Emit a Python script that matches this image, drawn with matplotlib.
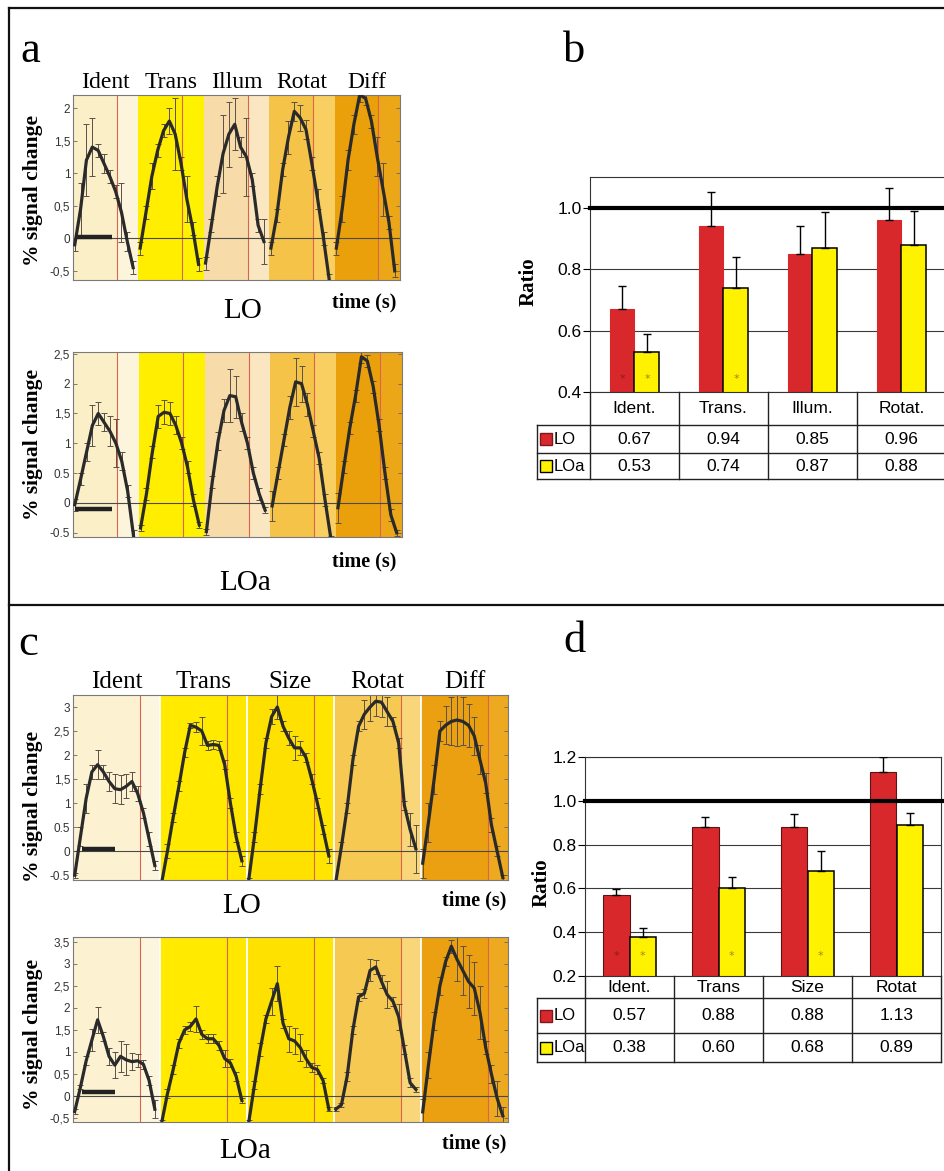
import numpy as np
import matplotlib
matplotlib.use("Agg")
import matplotlib.pyplot as plt
from matplotlib.lines import Line2D
import matplotlib.transforms as mtransforms

W, H = 945, 1171
SERIF = ['Liberation Serif', 'DejaVu Serif']
SANS = ['Liberation Sans', 'DejaVu Sans']
RED = '#d8282c'
YELLOW = '#fff200'

# ---------------- panel a: time courses, 11 samples per condition ----------------
conds_a = ['Ident', 'Trans', 'Illum', 'Rotat', 'Diff']
lo_a = [
    [-0.10, 0.45, 1.20, 1.40, 1.35, 1.15, 0.95, 0.72, 0.40, -0.05, -0.45],
    [-0.15, 0.40, 0.95, 1.35, 1.65, 1.80, 1.60, 1.15, 0.60, 0.15, -0.40],
    [-0.38, 0.20, 0.80, 1.30, 1.60, 1.75, 1.40, 1.25, 0.90, 0.20, -0.05],
    [-0.15, 0.35, 1.05, 1.55, 1.95, 1.85, 1.67, 1.15, 0.60, 0.00, -0.65],
    [-0.15, 0.45, 1.20, 1.75, 2.20, 2.15, 1.80, 1.25, 0.75, 0.25, -0.50],
]
lo_a_err = [
    [0.10, 0.40, 0.55, 0.45, 0.10, 0.15, 0.10, 0.10, 0.45, 0.15, 0.10],
    [0.10, 0.10, 0.20, 0.10, 0.10, 0.20, 0.55, 0.10, 0.35, 0.10, 0.10],
    [0.10, 0.10, 0.15, 0.60, 0.50, 0.40, 0.15, 0.60, 0.10, 0.10, 0.35],
    [0.10, 0.10, 0.10, 0.25, 0.15, 0.20, 0.15, 0.10, 0.15, 0.10, 0.10],
    [0.10, 0.20, 0.15, 0.15, 0.10, 0.10, 0.10, 0.30, 0.40, 0.10, 0.10],
]
loa_a = [
    [-0.03, 0.40, 0.85, 1.30, 1.50, 1.35, 1.20, 1.00, 0.70, 0.20, -0.55],
    [-0.42, 0.15, 0.85, 1.45, 1.52, 1.50, 1.30, 1.00, 0.60, 0.05, -0.37],
    [-0.48, 0.35, 1.04, 1.55, 1.80, 1.78, 1.35, 1.00, 0.50, 0.15, -0.12],
    [-0.05, 0.50, 1.05, 1.60, 2.03, 2.00, 1.65, 1.20, 0.75, 0.05, -0.60],
    [-0.08, 0.60, 1.25, 1.80, 2.45, 2.38, 1.95, 1.30, 0.50, -0.20, -0.50],
]
loa_a_err = [
    [0.10, 0.10, 0.15, 0.35, 0.20, 0.15, 0.25, 0.40, 0.15, 0.10, 0.10],
    [0.05, 0.10, 0.10, 0.20, 0.20, 0.20, 0.15, 0.10, 0.10, 0.10, 0.05],
    [0.05, 0.10, 0.15, 0.20, 0.45, 0.35, 0.15, 0.10, 0.10, 0.10, 0.05],
    [0.25, 0.10, 0.10, 0.20, 0.40, 0.30, 0.20, 0.10, 0.10, 0.10, 0.05],
    [0.25, 0.10, 0.10, 0.10, 0.10, 0.10, 0.10, 0.10, 0.10, 0.10, 0.05],
]
colors_a = [('#fbefc8', '#fdf5db'), ('#ffee00', '#fff200'), ('#f7dcaa', '#fae6c0'),
            ('#f4c347', '#f8cf60'), ('#e9a00b', '#eca718')]
stim_a = (0.0, 6.4)

# ---------------- panel c: time courses, 15 samples per condition ----------------
conds_c = ['Ident', 'Trans', 'Size', 'Rotat', 'Diff']
lo_c = [
    [-0.50, 0.30, 1.10, 1.65, 1.80, 1.65, 1.45, 1.30, 1.28, 1.35, 1.45, 1.20, 0.80, 0.25, -0.30],
    [-0.65, 0.00, 0.70, 1.35, 2.05, 2.62, 2.58, 2.50, 2.20, 2.22, 2.20, 1.80, 1.00, 0.30, -0.20],
    [-0.60, 0.30, 1.30, 2.25, 2.80, 3.00, 2.60, 2.35, 2.15, 2.15, 1.95, 1.50, 1.00, 0.45, -0.10],
    [-0.65, 0.10, 0.90, 1.90, 2.60, 2.85, 3.00, 3.12, 3.10, 2.90, 2.70, 2.25, 0.95, 0.45, 0.05],
    [-0.25, 0.60, 1.50, 2.50, 2.62, 2.70, 2.73, 2.70, 2.62, 2.40, 1.90, 1.42, 0.55, 0.00, -0.55],
]
lo_c_err = [
    [0.05, 0.20, 0.30, 0.15, 0.30, 0.15, 0.20, 0.30, 0.30, 0.25, 0.20, 0.15, 0.10, 0.15, 0.10],
    [0.05, 0.15, 0.10, 0.10, 0.10, 0.05, 0.10, 0.30, 0.10, 0.10, 0.10, 0.10, 0.10, 0.10, 0.10],
    [0.05, 0.10, 0.10, 0.10, 0.15, 0.25, 0.10, 0.15, 0.25, 0.15, 0.10, 0.10, 0.10, 0.10, 0.15],
    [0.05, 0.10, 0.10, 0.10, 0.10, 0.30, 0.30, 0.30, 0.30, 0.30, 0.10, 0.10, 0.10, 0.35, 0.50],
    [0.30, 0.40, 0.30, 0.20, 0.40, 0.50, 0.55, 0.50, 0.45, 0.40, 0.30, 0.20, 0.15, 0.10, 0.05],
]
loa_c = [
    [-0.35, 0.20, 0.80, 1.27, 1.73, 1.35, 0.90, 0.70, 0.90, 0.82, 0.78, 0.80, 0.72, 0.35, -0.30],
    [-0.60, 0.05, 0.60, 1.20, 1.50, 1.58, 1.75, 1.40, 1.30, 1.30, 1.15, 0.85, 0.75, 0.45, -0.10],
    [-0.60, 0.25, 1.05, 1.75, 2.15, 2.55, 1.65, 1.30, 1.25, 1.10, 0.85, 0.65, 0.60, 0.35, -0.30],
    [-0.30, -0.20, 0.45, 1.50, 2.25, 2.33, 2.85, 2.93, 2.60, 2.30, 2.15, 1.80, 1.05, 0.30, 0.15],
    [-0.36, 0.70, 1.70, 2.50, 3.05, 3.40, 3.10, 2.85, 2.60, 2.45, 1.90, 1.10, 0.50, -0.05, -0.45],
]
loa_c_err = [
    [0.05, 0.05, 0.10, 0.25, 0.30, 0.10, 0.20, 0.30, 0.35, 0.35, 0.20, 0.15, 0.10, 0.10, 0.20],
    [0.05, 0.10, 0.10, 0.10, 0.10, 0.10, 0.30, 0.10, 0.10, 0.10, 0.10, 0.20, 0.10, 0.10, 0.05],
    [0.05, 0.10, 0.15, 0.10, 0.30, 0.40, 0.10, 0.30, 0.30, 0.30, 0.20, 0.10, 0.10, 0.05, 0.05],
    [0.05, 0.05, 0.10, 0.10, 0.10, 0.10, 0.25, 0.15, 0.15, 0.30, 0.10, 0.30, 0.10, 0.10, 0.05],
    [0.30, 0.30, 0.20, 0.20, 0.10, 0.15, 0.50, 0.55, 0.60, 0.60, 0.60, 0.15, 0.20, 0.40, 0.20],
]
colors_c = [('#fcf2d2', '#fdf6df'), ('#ffea00', '#ffe700'), ('#ffe100', '#ffe500'),
            ('#f6c953', '#f9d679'), ('#eaa010', '#eda920')]
stim_c = (1.3, 7.0)

# ---------------- panels b / d: ratio bars ----------------
cats_b = ['Ident.', 'Trans.', 'Illum.', 'Rotat.']
ratio_lo_b = [0.67, 0.94, 0.85, 0.96]
ratio_loa_b = [0.53, 0.74, 0.87, 0.88]
err_lo_b = [0.075, 0.11, 0.09, 0.105]
err_loa_b = [0.06, 0.10, 0.115, 0.11]
star_lo_b = [True, False, False, False]
star_loa_b = [True, True, False, False]

cats_d = ['Ident.', 'Trans', 'Size', 'Rotat']
ratio_lo_d = [0.57, 0.88, 0.88, 1.13]
ratio_loa_d = [0.38, 0.60, 0.68, 0.89]
err_lo_d = [0.025, 0.045, 0.06, 0.07]
err_loa_d = [0.04, 0.05, 0.09, 0.055]
star_lo_d = [True, False, False, False]
star_loa_d = [True, True, True, False]


fig = plt.figure(figsize=(W / 100, H / 100), dpi=100)


def px_axes(x0, y0, x1, y1):
    return fig.add_axes([x0 / W, 1 - y1 / H, (x1 - x0) / W, (y1 - y0) / H])


def ftext(x, y, s, **kw):
    fig.text(x / W, 1 - y / H, s, **kw)


def time_course(ax, blocks, errs, colors, L, red_at, ylim, yticks, ylabels, stim, stim_y,
                conds=None, conds_fs=16, seps=False):
    off = 0.3
    for k, (vals, ee) in enumerate(zip(blocks, errs)):
        x0 = k * L - off
        ax.axvspan(x0, x0 + red_at, color=colors[k][0], lw=0, zorder=0)
        ax.axvspan(x0 + red_at, x0 + L, color=colors[k][1], lw=0, zorder=0)
        ax.axvline(x0 + red_at, color='#d9654c', lw=0.8, zorder=1)
        if seps and k > 0:
            ax.axvline(x0, color='white', lw=1.3, zorder=1)
        t = k * L + np.arange(len(vals))
        ax.errorbar(t, vals, yerr=ee, fmt='none', ecolor='#5a5048', elinewidth=0.7,
                    capsize=2.2, capthick=0.7, zorder=2)
        ax.plot(t, vals, color='#2a2a2a', lw=2.3, solid_joinstyle='round', zorder=3)
        if conds is not None:
            tr = mtransforms.blended_transform_factory(ax.transData, ax.transAxes)
            ax.text(x0 + L / 2, 1.04, conds[k], transform=tr, ha='center', va='baseline',
                    family=SERIF, fontsize=conds_fs)
    ax.axhline(0, color='#4a4a4a', lw=0.8, zorder=2)
    ax.plot(stim, [stim_y, stim_y], color='#222222', lw=3.2, solid_capstyle='butt', zorder=4)
    ax.set_xlim(-off, len(blocks) * L - off)
    ax.set_ylim(*ylim)
    ax.set_yticks(yticks)
    ax.set_yticklabels(ylabels, family=SANS, fontsize=8.5, color='#333333')
    ax.set_xticks([])
    ax.tick_params(axis='y', direction='in', length=3, width=0.6, color='#666666',
                   right=True, pad=2)
    for s in ax.spines.values():
        s.set_color('#7a7a7a')
        s.set_linewidth(0.8)


def ratio_bars(ax, tax, cats, lo, loa, elo, eloa, slo, sloa, ylim, yticks, width,
               rows, lab_w, star_y, red_edge):
    x = np.arange(len(cats))
    n = len(cats)
    ax.bar(x - width / 2, lo, width, color=RED, edgecolor=red_edge, lw=0.8, zorder=2)
    ax.bar(x + width / 2, loa, width, color=YELLOW, edgecolor='black', lw=1.1, zorder=2)
    ax.errorbar(x - width / 2, lo, yerr=[np.zeros(n), elo], fmt='none', ecolor='black',
                elinewidth=1.0, capsize=3, capthick=1.0, zorder=3)
    ax.errorbar(x + width / 2, loa, yerr=[np.zeros(n), eloa], fmt='none', ecolor='black',
                elinewidth=1.0, capsize=3, capthick=1.0, zorder=3)
    for i in range(n):
        if slo[i]:
            ax.text(x[i] - width / 2, star_y, '*', ha='center', va='center', color='#8c1c1c',
                    fontsize=8, zorder=4)
        if sloa[i]:
            ax.text(x[i] + width / 2, star_y, '*', ha='center', va='center', color='#b07a10',
                    fontsize=8, zorder=4)
    ax.set_xlim(-0.5, n - 0.5)
    ax.set_ylim(*ylim)
    ax.set_yticks(yticks)
    ax.set_yticklabels(['%.1f' % v for v in yticks], family=SANS, fontsize=12.5)
    ax.set_xticks([])
    ax.yaxis.grid(True, color='#3a3a3a', lw=0.8, zorder=1)
    ax.set_axisbelow(True)
    ax.axhline(1.0, xmin=0, xmax=1.03, color='black', lw=3, clip_on=False, zorder=3)
    ax.tick_params(axis='y', direction='out', length=5, width=0.8, pad=1)
    for s in ax.spines.values():
        s.set_color('#333333')
        s.set_linewidth(0.8)

    # table underneath
    left = -0.5 - lab_w
    tax.set_xlim(left, n - 0.5)
    tax.set_ylim(rows[-1], 0)
    tax.axis('off')
    kw = dict(color='#222222', lw=1.0, clip_on=False)
    for c in np.arange(n + 1) - 0.5:
        tax.plot([c, c], [0, rows[-1]], **kw)
    tax.plot([left, left], [rows[1], rows[-1]], **kw)
    for r in rows[1:]:
        tax.plot([left, n - 0.5], [r, r], **kw)
    fs = 12.5
    for i, c in enumerate(cats):
        tax.text(i, (rows[0] + rows[1]) / 2, c, ha='center', va='center', family=SANS, fontsize=fs)
        tax.text(i, (rows[1] + rows[2]) / 2, '%.2f' % lo[i], ha='center', va='center',
                 family=SANS, fontsize=fs)
        tax.text(i, (rows[2] + rows[3]) / 2, '%.2f' % loa[i], ha='center', va='center',
                 family=SANS, fontsize=fs)
    for (r0, r1), name, fc, ec in [((rows[1], rows[2]), 'LO', RED, '#7a1a1a'),
                                   ((rows[2], rows[3]), 'LOa', YELLOW, 'black')]:
        ym = (r0 + r1) / 2
        tax.plot([left + 0.1], [ym], marker='s', ms=8, mfc=fc, mec=ec, mew=1.0, clip_on=False)
        tax.text(left + 0.19, ym, name, ha='left', va='center', family=SANS, fontsize=fs - 0.5)


# ---- panel a ----
ax = px_axes(73, 95, 400, 280)
time_course(ax, lo_a, lo_a_err, colors_a, 11.2, 7.5, (-0.64, 2.2),
            [-0.5, 0, 0.5, 1, 1.5, 2], ['-0,5', '0', '0,5', '1', '1,5', '2'],
            stim_a, 0.02, conds=conds_a, conds_fs=17)
ax = px_axes(73, 352, 402, 537)
time_course(ax, loa_a, loa_a_err, colors_a, 11.2, 7.5, (-0.57, 2.53),
            [-0.5, 0, 0.5, 1, 1.5, 2, 2.5], ['-0.5', '0', '0.5', '1', '1,5', '2', '2,5'],
            stim_a, -0.1)

# ---- panel c ----
ax = px_axes(73, 695, 508, 880)
time_course(ax, lo_c, lo_c_err, colors_c, 15.2, 11.7, (-0.6, 3.25),
            [-0.5, 0, 0.5, 1, 1.5, 2, 2.5, 3], ['-0.5', '0', '0.5', '1', '1,5', '2', '2,5', '3'],
            stim_c, 0.05, conds=conds_c, conds_fs=18, seps=True)
ax = px_axes(73, 937, 508, 1122)
time_course(ax, loa_c, loa_c_err, colors_c, 15.2, 11.7, (-0.59, 3.61),
            [-0.5, 0, 0.5, 1, 1.5, 2, 2.5, 3, 3.5],
            ['-0,5', '0', '0,5', '1', '1,5', '2', '2,5', '3', '3,5'],
            stim_c, 0.1, seps=True)

# ---- panel b ----
ax = px_axes(590, 177, 946, 392)
tax = px_axes(537, 392, 946, 479)
ratio_bars(ax, tax, cats_b, ratio_lo_b, ratio_loa_b, err_lo_b, err_loa_b, star_lo_b, star_loa_b,
           (0.4, 1.1), [0.4, 0.6, 0.8, 1.0], 0.28, [0, 33, 61, 87], 53 / 89, 0.442, RED)

# ---- panel d ----
ax = px_axes(585, 757, 941, 976)
tax = px_axes(537, 976, 941, 1062)
ratio_bars(ax, tax, cats_d, ratio_lo_d, ratio_loa_d, err_lo_d, err_loa_d, star_lo_d, star_loa_d,
           (0.2, 1.2), [0.2, 0.4, 0.6, 0.8, 1.0, 1.2], 0.30, [0, 22, 57, 86], 48 / 89, 0.29,
           '#5a1414')

# ---- text labels ----
for lx, ly, s in [(20, 62, 'a'), (563, 62, 'b'), (18, 655, 'c'), (563, 652, 'd')]:
    ftext(lx, ly, s, family=SERIF, fontsize=32, va='baseline', ha='left')

for cy in [190, 444, 806, 1035]:
    ftext(33, cy, '% signal change', family=SERIF, fontsize=15.5, fontweight='bold',
          rotation=90, ha='center', va='center')

for rx, ry in [(529, 282), (542, 883)]:
    ftext(rx, ry, 'Ratio', family=SERIF, fontsize=15, fontweight='bold',
          rotation=90, ha='center', va='center')

for tx, ty in [(396, 307), (396, 566), (506, 905), (506, 1148)]:
    ftext(tx, ty, 'time (s)', family=SERIF, fontsize=14.5, fontweight='bold',
          ha='right', va='baseline')

for nx, ny, s in [(243, 318, 'LO'), (245, 590, 'LOa'), (242, 913, 'LO'), (245, 1158, 'LOa')]:
    ftext(nx, ny, s, family=SERIF, fontsize=21, ha='center', va='baseline')

# ---- figure frame ----
for xs, ys in [([9, 9], [8, H + 5]), ([9, W + 5], [8, 8]), ([9, W + 5], [605, 605])]:
    fig.add_artist(Line2D([x / W for x in xs], [1 - y / H for y in ys],
                          transform=fig.transFigure, color='#111111', lw=1.6))

fig.savefig('out.png', dpi=100)
